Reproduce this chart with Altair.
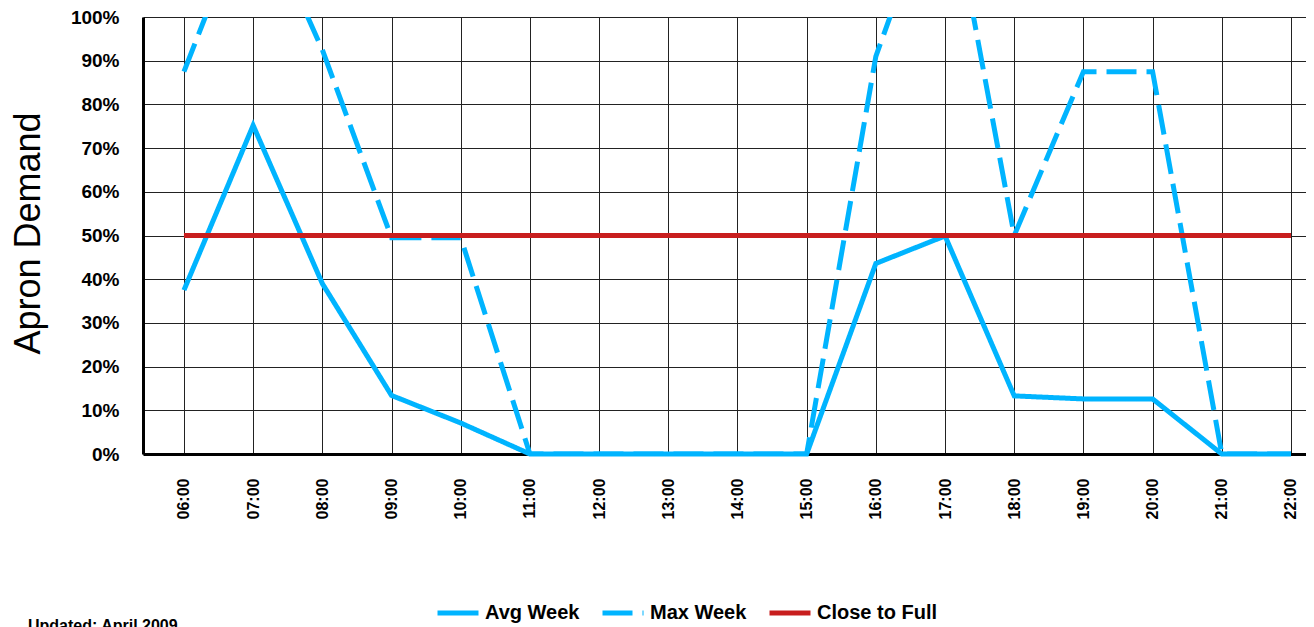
import altair as alt
import pandas as pd

hours = ["06:00", "07:00", "08:00", "09:00", "10:00", "11:00", "12:00", "13:00", "14:00",
         "15:00", "16:00", "17:00", "18:00", "19:00", "20:00", "21:00", "22:00"]
avg_week = [0.375, 0.752, 0.39, 0.134, 0.071, 0.0, 0.0, 0.0, 0.0,
            0.0, 0.436, 0.499, 0.133, 0.126, 0.126, 0.0, 0.0]
max_week = [0.875, 1.28, 0.925, 0.495, 0.495, 0.0, 0.0, 0.0, 0.0,
            0.0, 0.91, 1.35, 0.5, 0.875, 0.875, 0.0, 0.0]
close_to_full = [0.5] * 17
series_names = ["Avg Week", "Max Week", "Close to Full"]
series_colors = ["#00B4FF", "#00B4FF", "#C81E1E"]
series_dashes = [[1, 0], [30, 10], [1, 0]]
y_ticks = [0.0, 0.1, 0.2, 0.3, 0.4, 0.5, 0.6, 0.7, 0.8, 0.9, 1.0]
updated_note = "Updated: April 2009"

rows = []
for name, vals in zip(series_names, [avg_week, max_week, close_to_full]):
    for h, v in zip(hours, vals):
        rows.append({"hour": int(h[:2]), "label": h, "series": name, "value": v})
df = pd.DataFrame(rows)
hour_values = [int(h[:2]) for h in hours]

FONT = "Liberation Sans"

x_enc = alt.X(
    "hour:Q",
    scale=alt.Scale(domain=[5.408, 22.217], nice=False, zero=False),
    axis=alt.Axis(
        values=hour_values,
        labelExpr="(datum.value < 10 ? '0' : '') + datum.value + ':00'",
        labelAngle=270,
        labelFontSize=16,
        labelFontWeight="bold",
        labelFont=FONT,
        labelColor="black",
        labelPadding=24,
        ticks=False,
        grid=True,
        gridColor="#222222",
        gridWidth=1,
        domainColor="black",
        domainWidth=3,
        title=None,
    ),
)
y_enc = alt.Y(
    "value:Q",
    scale=alt.Scale(domain=[0, 1], nice=False),
    axis=alt.Axis(
        values=y_ticks,
        format=".0%",
        labelFontSize=19,
        labelFontWeight="bold",
        labelFont=FONT,
        labelColor="black",
        labelPadding=24,
        ticks=False,
        grid=True,
        gridColor="#222222",
        gridWidth=1,
        domainColor="black",
        domainWidth=3,
        title="Apron Demand",
        titleFont=FONT,
        titleFontSize=36,
        titleFontWeight="normal",
        titleColor="black",
        titleAngle=270,
        titleX=-115,
        titleY=216,
        titleAlign="center",
        titleBaseline="middle",
    ),
)
color_enc = alt.Color(
    "series:N",
    scale=alt.Scale(domain=series_names, range=series_colors),
    legend=alt.Legend(
        title=None,
        orient="none",
        legendX=292,
        legendY=573,
        direction="horizontal",
        labelFontSize=20,
        labelFontWeight="bold",
        labelFont=FONT,
        labelColor="black",
        symbolType="stroke",
        symbolSize=1681,
        symbolStrokeWidth=5,
        labelOffset=4,
        columnPadding=12,
        padding=0,
    ),
)
dash_enc = alt.StrokeDash(
    "series:N",
    scale=alt.Scale(domain=series_names, range=series_dashes),
    legend=None,
)

base = alt.Chart(df).encode(x=x_enc, y=y_enc, color=color_enc, strokeDash=dash_enc)

avg_layer = base.transform_filter(alt.datum.series == "Avg Week").mark_line(strokeWidth=5)
max_layer = base.transform_filter(alt.datum.series == "Max Week").mark_line(strokeWidth=5, clip=True)
full_layer = base.transform_filter(alt.datum.series == "Close to Full").mark_line(strokeWidth=5)

note = alt.Chart(pd.DataFrame({"t": [updated_note]})).mark_text(
    align="left", baseline="top", font=FONT, fontSize=16, fontWeight="bold", color="black"
).encode(text="t:N", x=alt.value(-115), y=alt.value(601))

chart = alt.layer(avg_layer, max_layer, full_layer, note).properties(
    width=1163,
    height=437,
    autosize=alt.AutoSizeParams(type="none"),
    padding={"left": 135, "top": 9, "right": 0, "bottom": 186},
).configure_view(stroke=None).configure(background="white")

chart.save("out.html", embed_options={"renderer": "svg", "actions": False})
